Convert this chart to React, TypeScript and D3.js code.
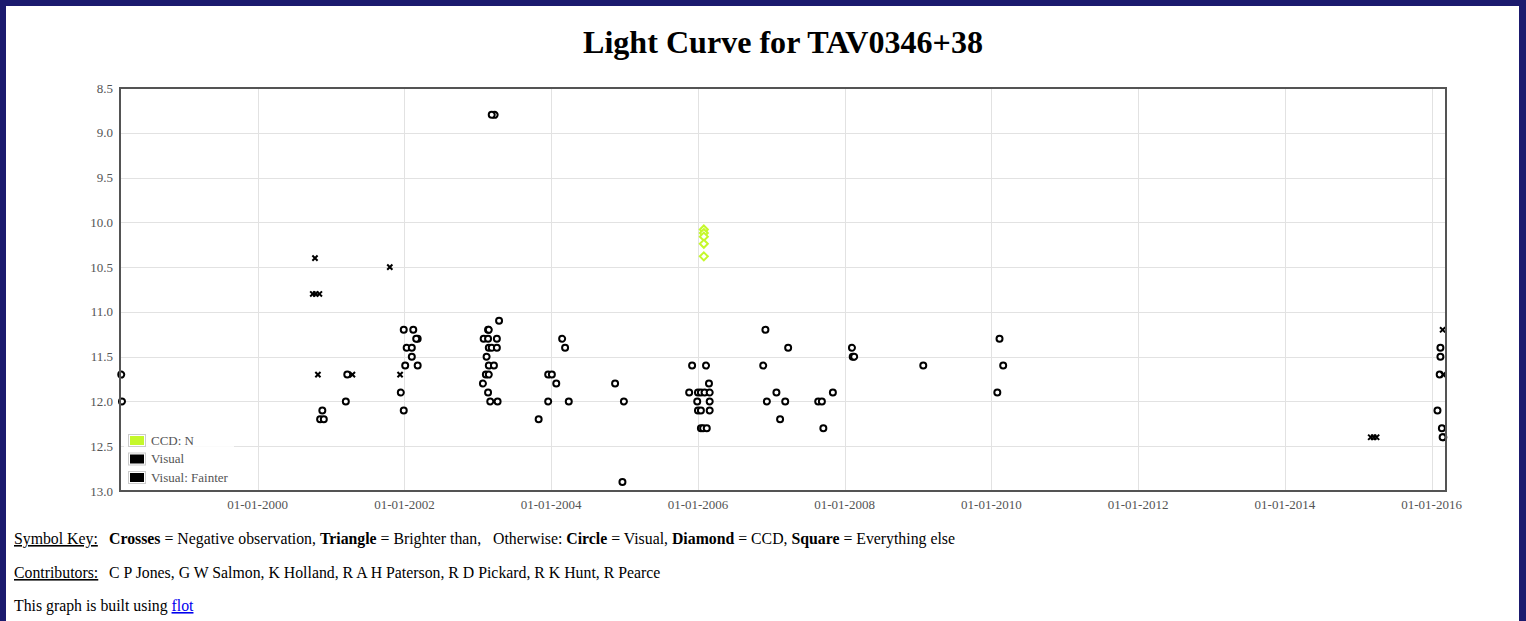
import React from 'react';
import * as d3 from 'd3';

// ---- data (time as decimal year, value in magnitudes) ----
const ccdTimes = [2006.08, 2006.08, 2006.08, 2006.08, 2006.08];
const ccdMags = [10.08, 10.12, 10.16, 10.24, 10.38];

const visualTimes = [
  1998.14, 1998.15, 2000.88, 2000.85, 2000.9, 2001.22, 2001.2,
  2001.99, 2002.12, 2002.18, 2002.16, 2002.03, 2002.1, 2002.1, 2002.01, 2002.18, 2001.95, 2001.99,
  2003.23, 2003.19, 2003.29, 2003.14, 2003.15, 2003.08, 2003.14, 2003.26, 2003.15, 2003.19, 2003.26,
  2003.12, 2003.15, 2003.22, 2003.11, 2003.15, 2003.07, 2003.14, 2003.17, 2003.27,
  2003.96, 2004.01, 2004.07, 2003.96, 2004.24, 2003.83, 2004.15, 2004.19,
  2004.87, 2004.99, 2004.97,
  2005.92, 2006.11, 2006.15, 2005.88, 2006.0, 2006.04, 2006.09, 2006.16, 2005.99, 2006.16,
  2006.0, 2006.04, 2006.16, 2006.04, 2006.07, 2006.12,
  2006.92, 2007.23, 2006.89, 2007.07, 2006.94, 2007.19, 2007.12,
  2007.64, 2007.69, 2007.84, 2007.71, 2008.1, 2008.11, 2008.13,
  2009.07, 2010.11, 2010.16, 2010.08,
  2016.12, 2016.12, 2016.11, 2016.08, 2016.14, 2016.16, 2016.15,
];
const visualMags = [
  11.7, 12.0, 12.1, 12.2, 12.2, 11.7, 12.0,
  11.2, 11.2, 11.3, 11.3, 11.4, 11.4, 11.5, 11.6, 11.6, 11.9, 12.1,
  8.8, 8.8, 11.1, 11.2, 11.2, 11.3, 11.3, 11.3, 11.4, 11.4, 11.4,
  11.5, 11.6, 11.6, 11.7, 11.7, 11.8, 11.9, 12.0, 12.0,
  11.7, 11.7, 11.8, 12.0, 12.0, 12.2, 11.3, 11.4,
  11.8, 12.0, 12.9,
  11.6, 11.6, 11.8, 11.9, 11.9, 11.9, 11.9, 11.9, 12.0, 12.0,
  12.1, 12.1, 12.1, 12.3, 12.3, 12.3,
  11.2, 11.4, 11.6, 11.9, 12.0, 12.0, 12.2,
  12.0, 12.0, 11.9, 12.3, 11.4, 11.5, 11.5,
  11.6, 11.3, 11.6, 11.9,
  11.4, 11.5, 11.7, 12.1, 12.3, 12.4, 12.4,
];

const fainterTimes = [
  2000.78, 2000.75, 2000.79, 2000.84, 2000.82, 2001.29, 2001.8, 2001.94,
  2015.17, 2015.21, 2015.25, 2016.15, 2016.16,
];
const fainterMags = [
  10.4, 10.8, 10.8, 10.8, 11.7, 11.7, 10.5, 11.7,
  12.4, 12.4, 12.4, 11.2, 11.7,
];

const xDomainYears = [1998.123, 2016.196];
const yDomain = [8.5, 13.0];
const yTickValues = [8.5, 9.0, 9.5, 10.0, 10.5, 11.0, 11.5, 12.0, 12.5, 13.0];
const xTickYears = [2000, 2002, 2004, 2006, 2008, 2010, 2012, 2014, 2016];

const legendLabels = ['CCD: N', 'Visual', 'Visual: Fainter'];
const contributors = 'C P Jones, G W Salmon, K Holland, R A H Paterson, R D Pickard, R K Hunt, R Pearce';

// ---- layout ----
const W = 1526;
const H = 621;
const M = { left: 120, top: 88, right: 1446, bottom: 491 };
const SERIF = '"Liberation Serif", "Times New Roman", serif';
const CCD_COLOR = '#c5f82b';
const TICK_COLOR = '#545454';

function yearToDate(y: number): Date {
  const yr = Math.floor(y);
  const a = Date.UTC(yr, 0, 1);
  const b = Date.UTC(yr + 1, 0, 1);
  return new Date(a + (y - yr) * (b - a));
}

const x = d3
  .scaleUtc()
  .domain(xDomainYears.map(yearToDate))
  .range([M.left, M.right]);
const y = d3.scaleLinear().domain(yDomain).range([M.top, M.bottom]);
const fmtDate = d3.utcFormat('%d-%m-%Y');

const circlePath = (cx: number, cy: number, r: number) =>
  `M${cx + r},${cy}A${r},${r} 0 1,1 ${cx - r},${cy}A${r},${r} 0 1,1 ${cx + r},${cy}Z`;
const diamondPath = (cx: number, cy: number, s: number) =>
  `M${cx},${cy - s}L${cx + s},${cy}L${cx},${cy + s}L${cx - s},${cy}Z`;
const crossPath = (cx: number, cy: number, s: number) =>
  `M${cx - s},${cy - s}L${cx + s},${cy + s}M${cx - s},${cy + s}L${cx + s},${cy - s}`;

export default function App() {
  const ccd = ccdTimes.map((t, i) => [x(yearToDate(t)), y(ccdMags[i])]);
  const vis = visualTimes.map((t, i) => [x(yearToDate(t)), y(visualMags[i])]);
  const fnt = fainterTimes.map((t, i) => [x(yearToDate(t)), y(fainterMags[i])]);
  const xTicks = xTickYears.map((yr) => yearToDate(yr));
  const legendColors = [CCD_COLOR, '#000', '#000'];

  return (
    <svg
      width={W}
      height={H}
      style={{ position: 'fixed', left: 0, top: 0, display: 'block' }}
      fontFamily={SERIF}
    >
      {/* page frame */}
      <rect x={0} y={0} width={W} height={H} fill="#1b1a6e" />
      <rect x={6} y={6} width={W - 13} height={H - 6} fill="#fff" />

      <text x={783} y={53} textAnchor="middle" fontSize={32.1} fontWeight="bold" fill="#000">
        Light Curve for TAV0346+38
      </text>

      {/* grid */}
      <g stroke="#e2e2e2" strokeWidth={1}>
        {yTickValues.map((v) => (
          <line key={'gy' + v} x1={M.left} x2={M.right} y1={Math.round(y(v)) + 0.5} y2={Math.round(y(v)) + 0.5} />
        ))}
        {xTicks.map((d) => (
          <line key={'gx' + d.getTime()} x1={Math.round(x(d)) + 0.5} x2={Math.round(x(d)) + 0.5} y1={M.top} y2={M.bottom} />
        ))}
      </g>

      {/* tick labels */}
      <g fontSize={13} fill={TICK_COLOR}>
        {yTickValues.map((v) => (
          <text key={'ty' + v} x={113} y={y(v) + 4.5} textAnchor="end">
            {v.toFixed(1)}
          </text>
        ))}
        {xTicks.map((d) => (
          <text key={'tx' + d.getTime()} x={x(d)} y={509} textAnchor="middle">
            {fmtDate(d)}
          </text>
        ))}
      </g>

      {/* series */}
      <g fill="#fff" stroke={CCD_COLOR} strokeWidth={2}>
        {ccd.map(([cx, cy], i) => (
          <path key={'c' + i} d={diamondPath(cx, cy, 4)} />
        ))}
      </g>
      <g fill="#fff" stroke="#000" strokeWidth={2}>
        {vis.map(([cx, cy], i) => (
          <path key={'v' + i} d={circlePath(cx, cy, 3)} />
        ))}
      </g>
      <g fill="none" stroke="#000" strokeWidth={2}>
        {fnt.map(([cx, cy], i) => (
          <path key={'f' + i} d={crossPath(cx, cy, 2.6)} />
        ))}
      </g>

      {/* plot border */}
      <rect
        x={M.left}
        y={M.top}
        width={M.right - M.left}
        height={M.bottom - M.top}
        fill="none"
        stroke="#545454"
        strokeWidth={2}
      />

      {/* legend */}
      <rect x={124} y={431} width={110} height={56} fill="#fff" opacity={0.85} />
      {legendLabels.map((lab, i) => {
        const ty = 435 + i * 18.5;
        return (
          <g key={lab}>
            <rect x={128.5} y={ty - 0.5} width={17} height={12} fill="#fff" stroke="#ccc" strokeWidth={1} />
            <rect x={130} y={ty + 1} width={14} height={9} fill={legendColors[i]} />
            <text x={151} y={ty + 9.5} fontSize={13} fill={TICK_COLOR}>
              {lab}
            </text>
          </g>
        );
      })}

      {/* notes below the chart */}
      <g fontSize={15.8} fill="#000">
        <text x={14} y={544}>
          <tspan style={{ textDecoration: 'underline' }}>Symbol Key:</tspan>
        </text>
        <text x={109} y={544} xmlSpace="preserve" style={{ whiteSpace: 'pre' }}>
          <tspan fontWeight="bold">Crosses</tspan>
          <tspan>{' = Negative observation, '}</tspan>
          <tspan fontWeight="bold">Triangle</tspan>
          <tspan>{' = Brighter than,\u00a0\u00a0\u00a0Otherwise: '}</tspan>
          <tspan fontWeight="bold">Circle</tspan>
          <tspan>{' = Visual, '}</tspan>
          <tspan fontWeight="bold">Diamond</tspan>
          <tspan>{' = CCD, '}</tspan>
          <tspan fontWeight="bold">Square</tspan>
          <tspan>{' = Everything else'}</tspan>
        </text>
        <text x={14} y={578}>
          <tspan style={{ textDecoration: 'underline' }}>Contributors:</tspan>
        </text>
        <text x={109} y={578}>
          {contributors}
        </text>
        <text x={14} y={611} xmlSpace="preserve" style={{ whiteSpace: 'pre' }}>
          <tspan>{'This graph is built using '}</tspan>
          <tspan fill="#0000ee" style={{ textDecoration: 'underline' }}>flot</tspan>
        </text>
      </g>
    </svg>
  );
}
